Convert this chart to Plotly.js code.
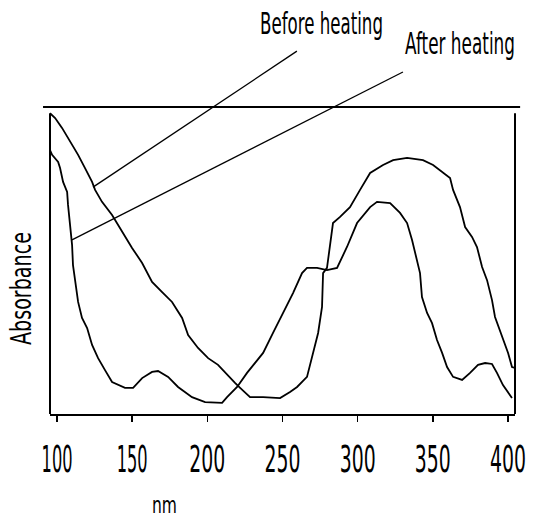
<!DOCTYPE html>
<html>
<head>
<meta charset="utf-8">
<script src="https://cdn.plot.ly/plotly-3.0.1.min.js"></script>
<style>html,body{margin:0;padding:0;background:#fff;}#chart{width:539px;height:520px;}</style>
</head>
<body>
<div id="chart"></div>
<script>
// Wavelength (nm) and absorbance (arbitrary units)
const beforeNm = [95.3,98.7,103.3,107.3,110.6,114.0,118.6,123.3,125.3,129.9,136.6,143.2,149.9,156.6,163.2,169.9,176.5,183.2,187.2,193.8,200.5,207.1,213.1,218.4,221.8,228.4,237.1,248.4,255.0,259.7,266.3,270.3,273.7,276.3,277.0,279.6,281.6,283.6,288.3,294.9,301.6,308.3,316.9,323.6,332.9,343.5,350.2,356.8,361.5,363.5,368.1,371.5,376.1,379.4,382.8,386.1,389.4,391.4,394.7,398.1,400.1,402.7,404.7];
const beforeAbs = [0.980,0.964,0.932,0.899,0.876,0.844,0.801,0.756,0.730,0.691,0.648,0.593,0.541,0.492,0.430,0.397,0.365,0.313,0.257,0.215,0.182,0.160,0.127,0.101,0.085,0.055,0.055,0.052,0.072,0.088,0.121,0.199,0.264,0.349,0.459,0.476,0.544,0.622,0.642,0.674,0.730,0.785,0.811,0.827,0.834,0.827,0.811,0.785,0.769,0.730,0.674,0.609,0.577,0.544,0.479,0.436,0.371,0.316,0.274,0.231,0.199,0.153,0.150];

const afterNm = [95.3,96.7,100.7,102.0,104.0,106.7,107.3,108.6,110.0,110.6,112.0,114.0,116.6,120.0,123.3,127.3,131.9,136.6,145.2,150.6,156.6,163.2,167.2,173.9,180.5,189.8,198.5,209.8,213.1,219.8,226.4,237.1,243.7,250.4,257.0,263.0,266.3,273.0,279.6,286.3,292.9,299.6,308.3,312.9,321.6,328.2,332.9,336.2,338.2,341.5,342.8,346.2,349.5,352.8,356.2,359.5,363.5,369.5,374.8,380.1,384.8,389.4,392.7,396.7,402.7];
const afterAbs = [0.860,0.844,0.821,0.801,0.756,0.723,0.681,0.616,0.550,0.485,0.430,0.365,0.313,0.280,0.225,0.182,0.143,0.104,0.085,0.085,0.117,0.137,0.140,0.121,0.088,0.055,0.039,0.036,0.055,0.088,0.134,0.199,0.264,0.329,0.394,0.459,0.476,0.476,0.469,0.476,0.544,0.622,0.674,0.691,0.687,0.655,0.622,0.567,0.524,0.459,0.381,0.329,0.296,0.241,0.199,0.153,0.121,0.111,0.134,0.160,0.166,0.163,0.134,0.094,0.052];

const tickVals = [100,150,200,250,300,350,400];
const tickText = ['100','150','200','250','300','350','400'];
const seriesNames = ['Before heating','After heating'];
const xTitle = 'nm';
const yTitle = 'Absorbance';

const FONT = '"DejaVu Sans", sans-serif';

const traces = [
  {x: beforeNm, y: beforeAbs, name: seriesNames[0], mode: 'lines', line: {color: '#000', width: 1.8}},
  {x: afterNm, y: afterAbs, name: seriesNames[1], mode: 'lines', line: {color: '#000', width: 1.8}}
];

const layout = {
  width: 539, height: 520,
  margin: {l: 50, r: 24, t: 107, b: 106},
  paper_bgcolor: '#fff', plot_bgcolor: '#fff',
  showlegend: false,
  font: {family: FONT, color: '#000'},
  xaxis: {
    range: [95.3, 404.7], tickvals: tickVals, ticktext: tickText,
    ticks: 'outside', ticklen: 6, tickwidth: 1.5, tickcolor: '#000',
    showline: true, linecolor: '#000', linewidth: 2,
    showgrid: false, zeroline: false, ticklabeloverflow: 'allow',
    ticklabelstandoff: 22,
    tickfont: {family: FONT, size: 19, color: '#000'}
  },
  yaxis: {
    range: [0, 1], showticklabels: false, ticks: '', showgrid: false,
    zeroline: false, showline: false
  },
  shapes: [
    {type: 'line', xref: 'paper', yref: 'paper', x0: -0.015, x1: 1.011, y0: 1, y1: 1, line: {color: '#000', width: 2}},
    {type: 'line', xref: 'paper', yref: 'paper', x0: 0, x1: 0, y0: 0, y1: 0.98, line: {color: '#000', width: 2}},
    {type: 'line', xref: 'paper', yref: 'paper', x0: 1, x1: 1, y0: 0, y1: 0.98, line: {color: '#000', width: 2}},
    {type: 'line', xref: 'paper', yref: 'paper', x0: 0.531, y0: 1.182, x1: 0.0925, y1: 0.739, line: {color: '#000', width: 1.3}},
    {type: 'line', xref: 'paper', yref: 'paper', x0: 0.759, y0: 1.114, x1: 0.0473, y1: 0.567, line: {color: '#000', width: 1.3}}
  ],
  annotations: [
    {text: seriesNames[0], xref: 'paper', yref: 'paper', x: 0.584, y: 1.270, xanchor: 'center', yanchor: 'middle', showarrow: false, font: {family: FONT, size: 16.5, color: '#000'}},
    {text: seriesNames[1], xref: 'paper', yref: 'paper', x: 0.882, y: 1.205, xanchor: 'center', yanchor: 'middle', showarrow: false, font: {family: FONT, size: 16.5, color: '#000'}},
    {text: yTitle, xref: 'paper', yref: 'paper', x: -0.0645, y: 0.409, xanchor: 'center', yanchor: 'middle', textangle: -90, showarrow: false, font: {family: FONT, size: 19, color: '#000'}},
    {text: xTitle, xref: 'paper', yref: 'paper', x: 0.246, y: -0.296, xanchor: 'center', yanchor: 'middle', showarrow: false, font: {family: FONT, size: 15.5, color: '#000'}}
  ]
};

// Appearance of the narrow, tall typeface of the original:
// [ink width px, glyph height px, glyph height in em, target centre x, target centre y]
const looks = {
  'Before heating': [123, 22, 0.73, 321.5, 24],
  'After heating': [110, 22, 0.73, 460, 44],
  'Absorbance': [113, 21, 0.73, 20, 288.5],
  'nm': [25, 13, 0.547, 164.5, 505]
};

function stretch(t, targetW, glyphPx, glyphEm, tx, ty) {
  const bb = t.getBBox();
  if (!bb.width) return;
  const fs = parseFloat(getComputedStyle(t).fontSize);
  const sx = targetW / bb.width;
  const sy = glyphPx / (glyphEm * fs);
  const cx = bb.x + bb.width / 2, cy = bb.y + bb.height / 2;
  const m = t.getCTM();
  const p = t.ownerSVGElement.createSVGPoint();
  p.x = cx; p.y = cy;
  const sp = p.matrixTransform(m);
  const dX = (tx == null ? sp.x : tx) - sp.x;
  const dY = (ty == null ? sp.y : ty) - sp.y;
  const inv = m.inverse();
  const vx = inv.a * dX + inv.c * dY, vy = inv.b * dX + inv.d * dY;
  const prev = t.getAttribute('transform') || '';
  t.setAttribute('transform', prev + ' translate(' + vx + ',' + vy + ') translate(' + cx + ',' + cy +
    ') scale(' + sx + ',' + sy + ') translate(' + (-cx) + ',' + (-cy) + ')');
}

Plotly.newPlot('chart', traces, layout, {displayModeBar: false, staticPlot: true}).then(function () {
  document.querySelectorAll('.xtick text').forEach(function (t) {
    const s = t.textContent;
    stretch(t, s.charAt(0) === '1' ? 31 : 36, 27, 0.73, null, 458.5);
  });
  document.querySelectorAll('.annotation-text').forEach(function (t) {
    const L = looks[t.textContent];
    if (L) stretch(t, L[0], L[1], L[2], L[3], L[4]);
  });
});
</script>
</body>
</html>
